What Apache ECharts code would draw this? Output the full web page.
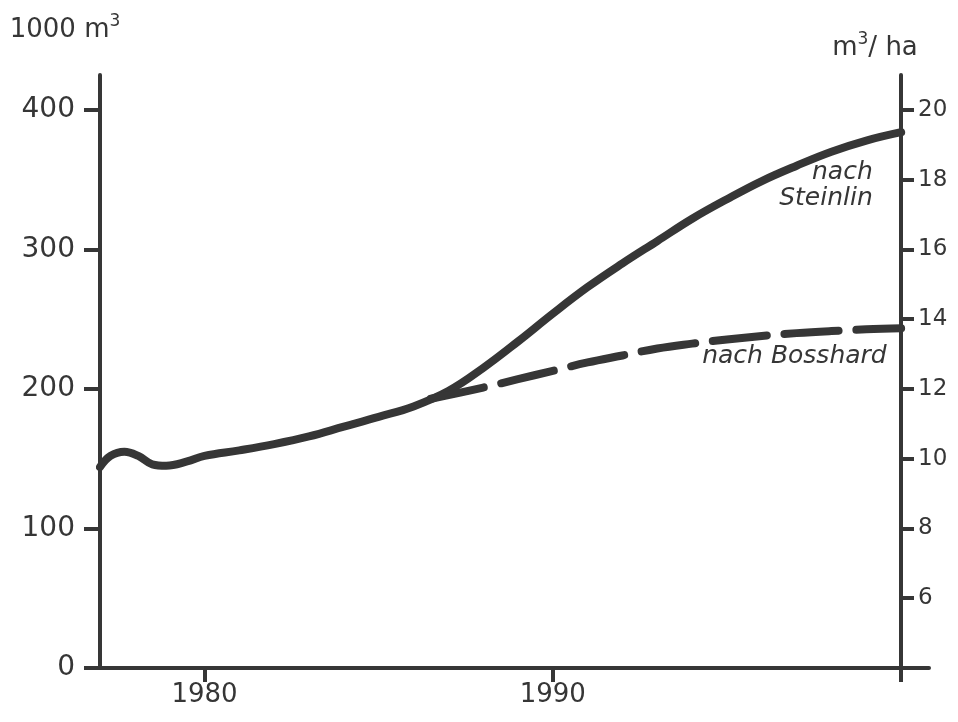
<!DOCTYPE html>
<html>
<head>
<meta charset="utf-8">
<style>
html,body{margin:0;padding:0;background:#fff;}
#chart{width:958px;height:722px;}
</style>
<script src="https://cdn.jsdelivr.net/npm/echarts@6/dist/echarts.min.js"></script>
</head>
<body>
<div id="chart"></div>
<script>
// ---- data (1000 m3) ----
const steinlinYears  = [1977.0, 1977.3, 1977.7, 1978.1, 1978.5, 1978.9, 1979.5, 1980, 1981, 1982, 1983, 1984, 1985, 1986, 1987, 1988, 1989, 1990, 1991, 1992, 1993, 1994, 1995, 1996, 1997, 1998, 1999, 2000];
const steinlinValues = [144, 152, 155, 152, 146, 145, 148, 152, 156, 160.5, 166, 173, 180, 187.5, 198.5, 215, 234, 254, 273, 290, 306, 322, 336, 349, 360, 370, 378, 384];
const bosshardYears  = [1986.5, 1988, 1989, 1990, 1991, 1992, 1993, 1994, 1995, 1996, 1997, 1998, 1999, 2000];
const bosshardValues = [193, 201, 207, 213, 219, 224, 229, 232.5, 235.5, 238, 240, 241.5, 242.7, 243.5];
const xTickValues  = [1980, 1990, 2000];
const xLabelValues = [1980, 1990];
const leftTicks  = [0, 100, 200, 300, 400];
const rightTicks = [6, 8, 10, 12, 14, 16, 18, 20];
const seriesNames = ['nach Steinlin', 'nach Bosshard'];

const ink = '#363636';
const font = 'DejaVu Sans';

const zip = (xs, ys) => xs.map((x, i) => [x, ys[i]]);

const chart = echarts.init(document.getElementById('chart'), null, {renderer: 'canvas'});
chart.setOption({
  animation: false,
  backgroundColor: '#fff',
  grid: {left: 100, right: 29, top: 75, bottom: 54, containLabel: false},
  xAxis: {
    type: 'value', min: 1977, max: 2000.8,
    axisLine: {onZero: false, lineStyle: {color: ink, width: 4}},
    axisTick: {customValues: xTickValues, length: 14, lineStyle: {color: ink, width: 4}},
    axisLabel: {customValues: xLabelValues, margin: 14, color: ink, fontFamily: font, fontSize: 26,
      formatter: v => String(v)},
    splitLine: {show: false}
  },
  yAxis: [
    {
      type: 'value', position: 'left', min: 0, max: 425,
      name: '{a|1000 m}{s|3}', nameLocation: 'end', nameGap: 32,
      nameTextStyle: {
        align: 'center', padding: [0, 70, 0, 0],
        rich: {
          a: {fontFamily: font, fontSize: 26, color: ink, lineHeight: 30, verticalAlign: 'bottom'},
          s: {fontFamily: font, fontSize: 17, color: ink, lineHeight: 30, verticalAlign: 'top', padding: [0, 0, 10, 0]}
        }
      },
      axisLine: {show: true, lineStyle: {color: ink, width: 4}},
      axisTick: {show: true, customValues: leftTicks, length: 16, lineStyle: {color: ink, width: 4}},
      axisLabel: {customValues: leftTicks, margin: 25, color: ink, fontFamily: font, fontSize: 28},
      splitLine: {show: false}
    },
    {
      type: 'value', position: 'right', offset: -28, min: 4, max: 21,
      name: '{a|m}{s|3}{a|/ ha}', nameLocation: 'end', nameGap: 14,
      nameTextStyle: {
        align: 'center', padding: [0, 52, 0, 0],
        rich: {
          a: {fontFamily: font, fontSize: 26, color: ink, lineHeight: 30, verticalAlign: 'bottom'},
          s: {fontFamily: font, fontSize: 17, color: ink, lineHeight: 30, verticalAlign: 'top', padding: [0, 0, 10, 0]}
        }
      },
      axisLine: {show: true, lineStyle: {color: ink, width: 4}},
      axisTick: {show: true, customValues: rightTicks, length: 13, lineStyle: {color: ink, width: 4}},
      axisLabel: {customValues: rightTicks, margin: 17, color: ink, fontFamily: font, fontSize: 23},
      splitLine: {show: false}
    }
  ],
  series: [
    {
      name: seriesNames[0], type: 'line', yAxisIndex: 0,
      data: zip(steinlinYears, steinlinValues),
      smooth: 0.4, showSymbol: false, symbol: 'none',
      lineStyle: {color: ink, width: 8, cap: 'round', join: 'round'},
      markPoint: {
        symbol: 'circle', symbolSize: 1, itemStyle: {color: 'rgba(0,0,0,0)'},
        label: {show: true, position: 'left', distance: 0, align: 'right', formatter: 'nach\nSteinlin',
          fontFamily: font, fontStyle: 'italic', fontSize: 25, lineHeight: 26, color: ink},
        data: [{coord: [1999.2, 346]}]
      }
    },
    {
      name: seriesNames[1], type: 'line', yAxisIndex: 0,
      data: zip(bosshardYears, bosshardValues),
      smooth: 0.4, showSymbol: false, symbol: 'none',
      lineStyle: {color: ink, width: 8, type: [54, 18], cap: 'round', join: 'round'},
      markPoint: {
        symbol: 'circle', symbolSize: 1, itemStyle: {color: 'rgba(0,0,0,0)'},
        label: {show: true, position: 'left', distance: 0, align: 'right', formatter: 'nach Bosshard',
          fontFamily: font, fontStyle: 'italic', fontSize: 25, color: ink},
        data: [{coord: [1999.6, 223]}]
      }
    }
  ]
});
</script>
</body>
</html>
